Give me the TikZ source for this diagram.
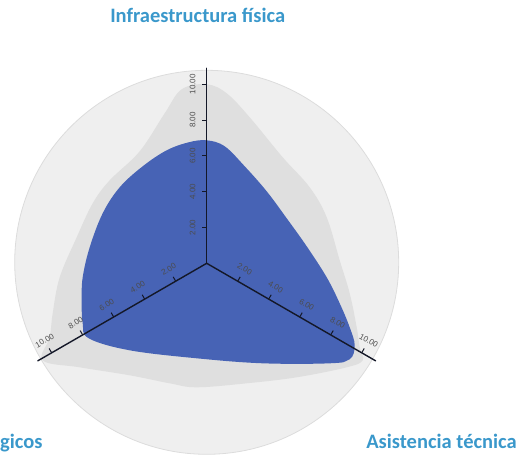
\documentclass[tikz,border=0pt]{standalone}
\usepackage{fontspec}
\setmainfont{Liberation Sans}
\newfontfamily\catfont{Carlito}
\usetikzlibrary{calc}

\begin{document}
\begin{tikzpicture}[
    x=1pt, y=1pt,
    axisLine/.style={line width=1.4pt, draw=axisColor, line cap=round},
    tickMark/.style={line width=1pt, draw=axisColor},
    tickLabel/.style={font=\fontsize{8}{9}\selectfont, text=black!70, inner sep=0pt},
    catLabel/.style={font=\catfont\bfseries\fontsize{20.5}{22}\selectfont, text=catColor, inner sep=0pt}
]

    % Parameters
    \def\unitLen{17.9}
    \def\axisLen{195}
    \def\ringRadius{192}

    % Define colors
    \definecolor{ringColor}{HTML}{EFEFEF}
    \definecolor{ringEdge}{HTML}{DCDCDC}
    \definecolor{bandColor}{HTML}{DFDFDF}
    \definecolor{dataColor}{HTML}{4763B5}
    \definecolor{axisColor}{HTML}{141828}
    \definecolor{catColor}{HTML}{3A98CB}

    \useasboundingbox (-206.7,-195.7) rectangle (316.3,263.3);
    \coordinate (O) at (0,0);

    % 1. Outer ring
    \filldraw[fill=ringColor, draw=ringEdge, line width=0.8pt] (0,1) circle (\ringRadius);

    % 2. Upper band (gray)
    \fill[bandColor] plot[smooth cycle, tension=0.6] coordinates {
        (0,179) (20,170) (43,146) (76,106) (103,76) (120,46) (133,3) (143,-30)
        (150,-64) (153,-84) (156,-97) (140,-104) (90,-114) (40,-120) (-10,-124)
        (-37,-120) (-77,-112) (-127,-104) (-164,-97) (-157,-74) (-154,-50)
        (-147,-14) (-130,26) (-114,60) (-97,83) (-67,112) (-42,150) (-25,174)
    };

    % 3. Data area (blue)
    \fill[dataColor] plot[smooth cycle, tension=0.6] coordinates {
        (0,123) (18,117) (38,97) (60,72) (80,45) (100,17) (120,-14) (133,-40)
        (143,-64) (148,-82) (143,-96) (123,-100) (56,-100) (-10,-95) (-77,-87)
        (-118,-75) (-124,-60) (-125,-37) (-124,-14) (-117,16) (-104,50)
        (-87,76) (-64,97) (-40,113) (-18,121)
    };

    % 4. Axes, ticks and tick labels
    \foreach \ang/\rot/\side in {90/90/180, 210/30/120, 330/-30/60} {
        \coordinate (ax\ang) at (\ang:\axisLen);
        \draw[axisLine] (O) -- (ax\ang);
        \foreach \v in {2,4,6,8,10} {
            \coordinate (tk\ang-\v) at (\ang:{\v*\unitLen});
            \draw[tickMark] (tk\ang-\v) -- ++(\side:5);
            \node[tickLabel, rotate=\rot] (lb\ang-\v) at ($(tk\ang-\v)+(\side:14)$) {\v.00};
        }
    }

    % 5. Category labels
    \node[catLabel, anchor=base] (infra) at (-9,240.6) {Infraestructura física};
    \node[catLabel, anchor=base] (asist) at (234.8,-185) {Asistencia técnica};
    \node[catLabel, anchor=base west] (tecno) at (-206.7,-185) {gicos};

\end{tikzpicture}
\end{document}
